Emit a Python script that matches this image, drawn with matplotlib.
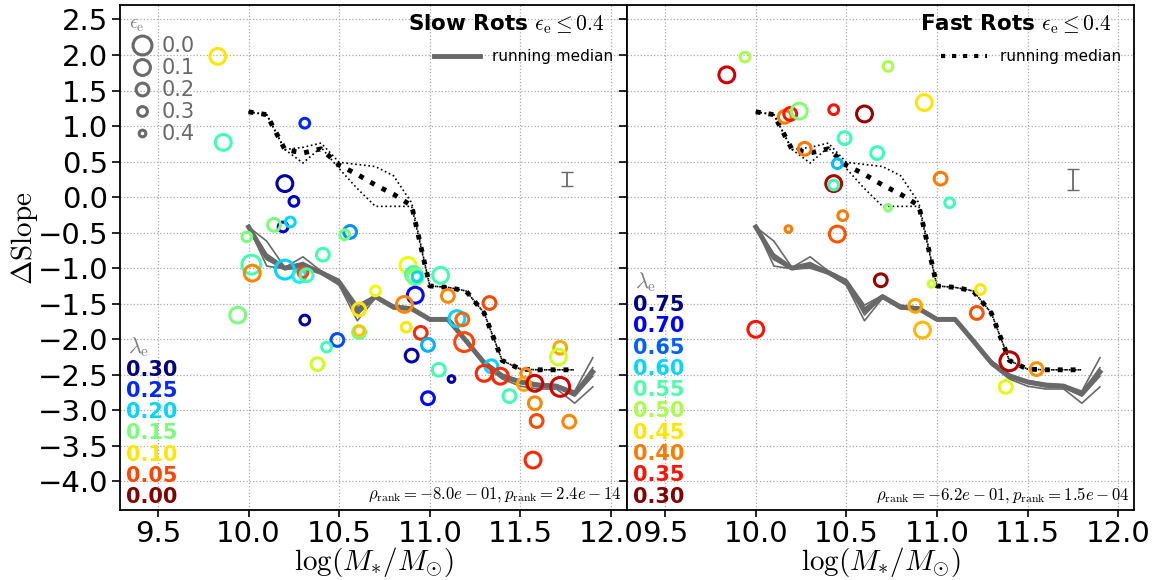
import matplotlib
matplotlib.use("Agg")
import matplotlib.pyplot as plt
import numpy as np
from matplotlib.lines import Line2D
from matplotlib.colors import Normalize

plt.rcParams['mathtext.fontset'] = 'cm'
plt.rcParams['font.family'] = 'DejaVu Sans'

# slow rotators: stellar mass, slope offset, lambda_e, eps_e
slow_mass = [9.83, 9.86, 10.31, 10.20, 10.25, 10.19, 10.23, 10.14, 9.99, 10.56,
             10.53, 10.41, 10.015, 10.02, 10.20, 10.28, 10.30, 10.32, 10.70, 10.61,
             10.61, 10.61, 10.88, 10.91, 10.92, 10.93, 10.92, 10.86, 9.94, 10.31,
             10.49, 10.43, 10.38, 11.06, 11.10, 11.33, 11.15, 11.18, 11.19, 10.87,
             10.95, 10.99, 10.90, 11.05, 11.12, 10.99, 11.34, 11.30, 11.39, 11.44,
             11.53, 11.52, 11.58, 11.72, 11.72, 11.71, 11.58, 11.59, 11.77, 11.57]
slow_dslope = [1.98, 0.77, 1.04, 0.19, -0.06, -0.42, -0.35, -0.39, -0.56, -0.49,
               -0.53, -0.81, -0.95, -1.07, -1.02, -1.11, -1.06, -1.10, -1.32, -1.58,
               -1.90, -1.88, -0.96, -1.09, -1.12, -1.12, -1.38, -1.51, -1.66, -1.73,
               -2.01, -2.11, -2.35, -1.10, -1.39, -1.49, -1.71, -1.72, -2.04, -1.83,
               -1.91, -2.08, -2.23, -2.43, -2.56, -2.83, -2.38, -2.48, -2.52, -2.80,
               -2.48, -2.63, -2.62, -2.67, -2.12, -2.25, -2.90, -3.15, -3.16, -3.70]
slow_lam = [0.10, 0.17, 0.25, 0.29, 0.28, 0.28, 0.20, 0.15, 0.15, 0.22,
            0.15, 0.17, 0.17, 0.07, 0.20, 0.19, 0.05, 0.17, 0.11, 0.10,
            0.15, 0.09, 0.11, 0.17, 0.15, 0.20, 0.26, 0.07, 0.15, 0.29,
            0.24, 0.17, 0.12, 0.17, 0.07, 0.05, 0.20, 0.06, 0.05, 0.10,
            0.04, 0.21, 0.29, 0.17, 0.29, 0.26, 0.20, 0.04, 0.04, 0.17,
            0.07, 0.08, 0.02, 0.02, 0.08, 0.12, 0.07, 0.05, 0.07, 0.04]
slow_eps = [0.1, 0.1, 0.3, 0.1, 0.3, 0.3, 0.3, 0.2, 0.3, 0.2,
            0.3, 0.2, 0.0, 0.1, 0.0, 0.2, 0.3, 0.2, 0.3, 0.2,
            0.2, 0.3, 0.1, 0.1, 0.1, 0.3, 0.1, 0.1, 0.1, 0.3,
            0.2, 0.3, 0.2, 0.1, 0.2, 0.2, 0.1, 0.2, 0.0, 0.3,
            0.2, 0.2, 0.2, 0.2, 0.4, 0.2, 0.2, 0.1, 0.1, 0.2,
            0.3, 0.2, 0.1, 0.0, 0.2, 0.1, 0.2, 0.2, 0.2, 0.1]

# fast rotators
fast_mass = [9.84, 9.94, 10.16, 10.19, 10.24, 10.43, 10.60, 10.49, 10.67, 10.27,
             10.45, 10.43, 10.43, 10.73, 10.48, 10.18, 10.45, 10.73, 10.93, 11.02,
             11.07, 10.00, 10.69, 10.97, 11.24, 10.88, 10.92, 11.22, 11.40, 11.55,
             11.38]
fast_dslope = [1.72, 1.97, 1.13, 1.17, 1.21, 1.23, 1.17, 0.83, 0.62, 0.68,
               0.47, 0.19, 0.17, -0.15, -0.26, -0.45, -0.52, 1.84, 1.33, 0.26,
               -0.08, -1.86, -1.17, -1.22, -1.30, -1.53, -1.87, -1.63, -2.31, -2.42,
               -2.67]
fast_lam = [0.33, 0.50, 0.40, 0.35, 0.52, 0.35, 0.31, 0.56, 0.56, 0.40,
            0.61, 0.32, 0.56, 0.52, 0.40, 0.40, 0.38, 0.50, 0.45, 0.40,
            0.56, 0.35, 0.31, 0.48, 0.45, 0.42, 0.43, 0.38, 0.32, 0.41,
            0.47]
fast_eps = [0.1, 0.3, 0.2, 0.2, 0.1, 0.3, 0.1, 0.2, 0.2, 0.2,
            0.3, 0.1, 0.3, 0.4, 0.3, 0.4, 0.1, 0.3, 0.1, 0.2,
            0.3, 0.1, 0.2, 0.4, 0.3, 0.2, 0.1, 0.2, 0.0, 0.2,
            0.2]

# running medians
slow_med_x = [10.0, 10.1, 10.2, 10.3, 10.4, 10.5, 10.6, 10.7, 10.8, 10.9,
              11.0, 11.1, 11.2, 11.3, 11.4, 11.5, 11.6, 11.7, 11.8, 11.9]
slow_med = [-0.42, -0.85, -1.00, -0.96, -1.06, -1.20, -1.60, -1.40, -1.55, -1.57,
            -1.72, -1.72, -2.02, -2.33, -2.52, -2.60, -2.65, -2.66, -2.77, -2.46]
slow_med_b1 = [-0.42, -0.62, -0.99, -0.84, -1.04, -1.16, -1.52, -1.38, -1.52, -1.55,
               -1.70, -1.70, -2.00, -2.30, -2.49, -2.58, -2.62, -2.64, -2.73, -2.26]
slow_med_b2 = [-0.42, -0.97, -1.01, -1.00, -1.08, -1.24, -1.74, -1.42, -1.57, -1.59,
               -1.74, -1.74, -2.05, -2.36, -2.56, -2.66, -2.70, -2.70, -2.90, -2.67]
slow_med_b3 = [-0.42, -0.80, -0.98, -0.92, -1.05, -1.18, -1.66, -1.40, -1.54, -1.56,
               -1.71, -1.73, -2.03, -2.33, -2.52, -2.62, -2.66, -2.68, -2.80, -2.52]
slow_med_b4 = [-0.42, -0.88, -1.00, -0.97, -1.07, -1.21, -1.56, -1.39, -1.55, -1.58,
               -1.73, -1.72, -2.02, -2.31, -2.50, -2.60, -2.64, -2.65, -2.75, -2.40]

fast_med_x = [10.0, 10.1, 10.2, 10.3, 10.4, 10.5, 10.6, 10.7, 10.8, 10.9,
              11.0, 11.1, 11.2, 11.3, 11.4, 11.5, 11.6, 11.7, 11.8]
fast_med = [1.20, 1.16, 0.67, 0.62, 0.68, 0.45, 0.32, 0.17, 0.04, -0.12,
            -1.25, -1.27, -1.32, -1.63, -2.30, -2.42, -2.43, -2.43, -2.43]
fast_med_hi = [1.20, 1.16, 0.67, 0.70, 0.76, 0.49, 0.46, 0.43, 0.30, -0.08,
               -1.25, -1.27, -1.32, -1.63, -2.30, -2.42, -2.43, -2.43, -2.43]
fast_med_lo = [1.20, 1.16, 0.67, 0.48, 0.70, 0.40, 0.12, -0.13, -0.13, -0.13,
               -1.25, -1.27, -1.32, -1.63, -2.30, -2.42, -2.43, -2.43, -2.43]

slow_lam_ticks = [0.30, 0.25, 0.20, 0.15, 0.10, 0.05, 0.00]
fast_lam_ticks = [0.75, 0.70, 0.65, 0.60, 0.55, 0.50, 0.45, 0.40, 0.35, 0.30]
eps_ticks = [0.0, 0.1, 0.2, 0.3, 0.4]

slow_stats = r'$\rho_{\rm rank}=-8.0e-01, p_{\rm rank}=2.4e-14$'
fast_stats = r'$\rho_{\rm rank}=-6.2e-01, p_{\rm rank}=1.5e-04$'
slow_err = 0.10
fast_err = 0.15


def msize(eps):
    return 13.6 - 22.0 * np.asarray(eps)


def draw_medians(ax):
    for b in [slow_med_b1, slow_med_b2, slow_med_b3, slow_med_b4]:
        ax.plot(slow_med_x, b, color='dimgray', lw=1.2, zorder=2)
    ax.plot(slow_med_x, slow_med, color='dimgray', lw=3.5, zorder=2)
    for b in [fast_med_hi, fast_med_lo]:
        ax.plot(fast_med_x, b, color='black', ls=':', lw=1.2, zorder=2)
    ax.plot(fast_med_x, fast_med, color='black', ls=':', lw=3.5, zorder=2)


def draw_points(ax, mass, ds, lam, eps, norm):
    cmap = plt.get_cmap('jet_r')
    s = msize(eps) ** 2
    ax.scatter(mass, ds, s=s, facecolors='none', edgecolors=cmap(norm(lam)),
               linewidths=2.2, zorder=3)


fig, (ax1, ax2) = plt.subplots(1, 2, sharey=True, figsize=(11.54, 5.8), dpi=100)
fig.subplots_adjust(left=0.104, right=0.983, bottom=0.121, top=0.991, wspace=0)

slow_norm = Normalize(vmin=0.0, vmax=0.3)
fast_norm = Normalize(vmin=0.3, vmax=0.75)

for ax in (ax1, ax2):
    draw_medians(ax)
    ax.set_xlim(9.29, 12.09)
    ax.set_ylim(-4.4, 2.7)
    ax.set_xticks([9.5, 10.0, 10.5, 11.0, 11.5, 12.0])
    ax.set_yticks(np.arange(-4.0, 2.51, 0.5))
    ax.grid(True, ls=':', color='#aaaaaa', lw=0.9)
    ax.set_axisbelow(True)
    ax.tick_params(labelsize=21, width=1.2, length=6)
    ax.tick_params(axis='x', pad=2, length=5)
    ax.tick_params(axis='y', pad=2.5)
    for sp in ax.spines.values():
        sp.set_linewidth(1.3)
    ax.set_xlabel(r'$\log(M_{*}/M_{\odot})$', fontsize=21, labelpad=-2)

draw_points(ax1, slow_mass, slow_dslope, slow_lam, slow_eps, slow_norm)
draw_points(ax2, fast_mass, fast_dslope, fast_lam, fast_eps, fast_norm)
fig.text(24 / 1154, 1 - 238 / 580, r'$\Delta \rm Slope$', fontsize=21,
         rotation=90, ha='center', va='center')

# typical error bars
ax1.errorbar([11.76], [0.25], yerr=[slow_err], color='dimgray', capsize=4, lw=1.3)
ax2.errorbar([11.75], [0.25], yerr=[fast_err], color='dimgray', capsize=4, lw=1.3)

# panel titles
for ax, name in ((ax1, 'Slow Rots'), (ax2, 'Fast Rots')):
    ax.text(0.955, 0.962, name + r' $\epsilon_{\rm e} \leq 0.4$', transform=ax.transAxes,
            ha='right', va='center', fontsize=15.5, fontweight='bold')

# median legends
leg1 = ax1.legend([Line2D([], [], color='dimgray', lw=3.5)], ['running median'],
                  loc='upper right', bbox_to_anchor=(1.0, 0.94), frameon=False,
                  fontsize=11, handlelength=3)
ax1.add_artist(leg1)
leg2 = ax2.legend([Line2D([], [], color='black', ls=':', lw=3)], ['running median'],
                  loc='upper right', bbox_to_anchor=(1.0, 0.94), frameon=False,
                  fontsize=11, handlelength=3)

# ellipticity size key
handles = [Line2D([], [], marker='o', ls='none', mfc='none', mec='dimgray', mew=2.2,
                  ms=msize(e)) for e in eps_ticks]
leg_e = ax1.legend(handles, ['%.1f' % e for e in eps_ticks], loc='upper left',
                   bbox_to_anchor=(-0.012, 1.012), frameon=False, fontsize=15,
                   labelcolor='dimgray', title=r'$\epsilon_{\rm e}$', title_fontsize=14,
                   handlelength=1.3, handletextpad=0.3, labelspacing=0.1, borderpad=0.2)
leg_e.get_title().set_color('gray')
leg_e._legend_box.align = 'left'

# lambda colour keys
cmap = plt.get_cmap('jet_r')
for ax, ticks, norm, ytop in ((ax1, slow_lam_ticks, slow_norm, 0.278),
                              (ax2, fast_lam_ticks, fast_norm, 0.406)):
    ax.text(0.015, ytop + 0.045, r'$\lambda_{\rm e}$', transform=ax.transAxes,
            color='gray', fontsize=16, va='center')
    for i, t in enumerate(ticks):
        ax.text(0.012, ytop - i * 0.0422, '%.2f' % t, transform=ax.transAxes,
                color=cmap(norm(t)), fontsize=15, fontweight='bold', va='center')

ax1.text(0.99, 0.03, slow_stats, transform=ax1.transAxes, ha='right', va='center', fontsize=12)
ax2.text(0.99, 0.03, fast_stats, transform=ax2.transAxes, ha='right', va='center', fontsize=12)

fig.savefig('out.png', dpi=100)
